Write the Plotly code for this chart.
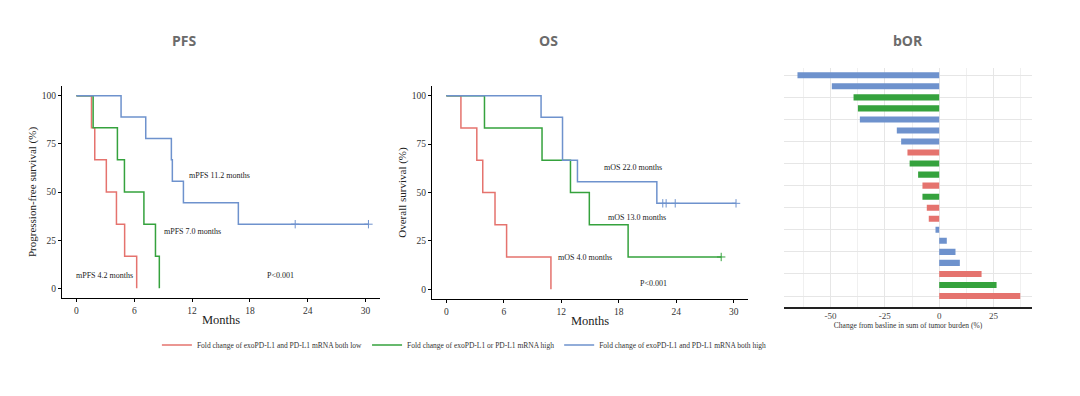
import plotly.graph_objects as go

W, H = 1080, 396

# ---------------- data ----------------
group_names = ["Fold change of exoPD-L1 and PD-L1 mRNA both low",
               "Fold change of exoPD-L1 or PD-L1 mRNA high",
               "Fold change of exoPD-L1 and PD-L1 mRNA both high"]
group_colors = ["#E5736E", "#35A23D", "#6E92CD"]

# PFS Kaplan-Meier steps (months, survival %)
pfs_low_t = [0, 1.56, 1.9, 3.1, 4.15, 5.0, 6.25]
pfs_low_s = [100, 83.3, 66.7, 50, 33.3, 16.7, 0]
pfs_one_t = [0, 1.73, 4.25, 4.98, 7.0, 8.2, 8.6]
pfs_one_s = [100, 83.3, 66.7, 50, 33.3, 16.7, 0]
pfs_both_t = [0, 4.63, 7.19, 9.85, 9.95, 11.1, 16.8, 30.3]
pfs_both_s = [100, 88.9, 77.8, 66.7, 55.6, 44.4, 33.3, 33.3]
pfs_both_cens_t = [22.7, 30.3]
pfs_both_cens_s = [33.3, 33.3]

# OS Kaplan-Meier steps
os_low_t = [0, 1.52, 3.18, 3.8, 5.08, 6.29, 10.92]
os_low_s = [100, 83.3, 66.7, 50, 33.3, 16.7, 0]
os_one_t = [0, 3.98, 9.99, 12.96, 14.93, 18.98, 28.7]
os_one_s = [100, 83.3, 66.7, 50, 33.3, 16.7, 16.7]
os_one_cens_t = [28.7]
os_one_cens_s = [16.7]
os_both_t = [0, 9.89, 12.13, 13.69, 21.98, 30.25]
os_both_s = [100, 88.9, 66.7, 55.6, 44.4, 44.4]
os_both_cens_t = [22.6, 22.95, 23.9, 30.25]
os_both_cens_s = [44.4, 44.4, 44.4, 44.4]

month_ticks = [0, 6, 12, 18, 24, 30]
surv_ticks = [0, 25, 50, 75, 100]

pfs_labels = ["mPFS 11.2 months", "mPFS 7.0 months", "mPFS 4.2 months", "P<0.001"]
pfs_label_x = [11.47, 8.88, -0.24, 19.55]
pfs_label_y = [58.8, 29.3, 6.6, 6.6]
os_labels = ["mOS 22.0 months", "mOS 13.0 months", "mOS 4.0 months", "P<0.001"]
os_label_x = [16.25, 16.66, 11.48, 19.98]
os_label_y = [62.8, 37.0, 16.2, 3.1]

# best overall response waterfall
bor_patients = ["P%d" % i for i in range(1, 22)]
bor_values = [-65.2, -49.4, -39.4, -37.4, -36.5, -19.5, -17.5, -14.6, -13.6, -9.7, -7.7,
              -7.7, -5.7, -4.8, -1.7, 3.5, 7.5, 9.5, 19.5, 26.4, 37.3]
bor_groups = [2, 2, 1, 1, 2, 2, 2, 0, 1, 1, 0, 1, 0, 0, 2, 2, 2, 2, 0, 1, 0]
bor_ticks = [-50, -25, 0, 25]
bor_tick_labels = ["-50", "-25", "0", "25"]

panel_titles = ["PFS", "OS", "bOR"]

# ---------------- figure ----------------
SERIF = "Liberation Serif"
fig = go.Figure()

def km(t, s, color, name, xa, ya, show):
    fig.add_trace(go.Scatter(x=t, y=s, mode="lines", line=dict(color=color, width=1.5, shape="hv"),
                             name=name, legendgroup=name, showlegend=show, xaxis=xa, yaxis=ya,
                             hoverinfo="skip"))

def cens(t, s, color, name, xa, ya):
    fig.add_trace(go.Scatter(x=t, y=s, mode="markers",
                             marker=dict(symbol="cross-thin-open", size=6, color=color,
                                         line=dict(color=color, width=1)),
                             name=name, legendgroup=name, showlegend=False, xaxis=xa, yaxis=ya,
                             hoverinfo="skip"))

km(pfs_low_t, pfs_low_s, group_colors[0], group_names[0], "x", "y", True)
km(pfs_one_t, pfs_one_s, group_colors[1], group_names[1], "x", "y", True)
km(pfs_both_t, pfs_both_s, group_colors[2], group_names[2], "x", "y", True)
cens(pfs_both_cens_t, pfs_both_cens_s, group_colors[2], group_names[2], "x", "y")

km(os_low_t, os_low_s, group_colors[0], group_names[0], "x2", "y2", False)
km(os_one_t, os_one_s, group_colors[1], group_names[1], "x2", "y2", False)
km(os_both_t, os_both_s, group_colors[2], group_names[2], "x2", "y2", False)
cens(os_one_cens_t, os_one_cens_s, group_colors[1], group_names[1], "x2", "y2")
cens(os_both_cens_t, os_both_cens_s, group_colors[2], group_names[2], "x2", "y2")

fig.add_trace(go.Bar(x=bor_values, y=bor_patients, orientation="h", width=0.55,
                     marker=dict(color=[group_colors[g] for g in bor_groups], line=dict(width=0)),
                     showlegend=False, xaxis="x3", yaxis="y3", hoverinfo="skip"))

def py(p):  # pixel from top -> paper
    return (H - p) / H

def px(p):
    return p / W

tickfont = dict(family=SERIF, size=9.5, color="#333333")
km_x = dict(range=[-1.5, 31.5], tickvals=month_ticks, ticks="outside", ticklen=3, tickwidth=1.2,
            tickcolor="black", showline=True, linecolor="black", linewidth=1.4, showgrid=False,
            zeroline=False, tickfont=tickfont,
            title=dict(text="Months", font=dict(family=SERIF, size=12.5, color="#222222"), standoff=0))
km_y = dict(range=[-5, 105], tickvals=surv_ticks, ticks="outside", ticklen=3, tickwidth=1.2,
            tickcolor="black", showline=True, linecolor="black", linewidth=1.4, showgrid=False,
            zeroline=False, tickfont=tickfont)

fig.update_layout(
    width=W, height=H, margin=dict(l=0, r=0, t=0, b=0),
    paper_bgcolor="white", plot_bgcolor="white",
    xaxis=dict(domain=[px(62), px(380)], anchor="y", **km_x),
    yaxis=dict(domain=[py(298), py(86)], anchor="x",
               title=dict(text="Progression-free survival (%)",
                          font=dict(family=SERIF, size=11, color="#222222"), standoff=2), **km_y),
    xaxis2=dict(domain=[px(432), px(748)], anchor="y2", **km_x),
    yaxis2=dict(domain=[py(299), py(86)], anchor="x2",
                title=dict(text="Overall survival (%)",
                           font=dict(family=SERIF, size=11, color="#222222"), standoff=2), **km_y),
    xaxis3=dict(domain=[px(784), px(1032)], anchor="y3", range=[-71.4, 42.7],
                tickvals=bor_ticks, ticktext=bor_tick_labels,
                showline=True, linecolor="#222222", linewidth=1.6, ticks="", zeroline=False,
                showgrid=True, gridcolor="#E6E6E6", gridwidth=1,
                minor=dict(dtick=12.5, tick0=0, showgrid=True, gridcolor="#F0F0F0", gridwidth=1),
                tickfont=dict(family=SERIF, size=9, color="#444444"),
                title=dict(text="Change from basline in sum of tumor burden (%)",
                           font=dict(family=SERIF, size=7.5, color="#333333"), standoff=2)),
    yaxis3=dict(domain=[py(306.7), py(68)], anchor="x3", type="category",
                categoryorder="array", categoryarray=bor_patients,
                range=[20.97, -0.66], showticklabels=False, ticks="", showline=False,
                showgrid=True, gridcolor="#E6E6E6", gridwidth=1, zeroline=False),
    legend=dict(orientation="h", x=0.43, xanchor="center", y=py(345), yanchor="middle",
                font=dict(family=SERIF, size=7.5, color="#333333"), itemwidth=30,
                bgcolor="rgba(0,0,0,0)"),
    showlegend=True,
)

annos = []
for t, cx in zip(panel_titles, [184, 548, 908]):
    annos.append(dict(text="<b>%s</b>" % t, x=px(cx), y=py(41), xref="paper", yref="paper",
                      showarrow=False, xanchor="center", yanchor="middle",
                      font=dict(family="Open Sans", size=14, color="#6B6B6B")))
for t, x, y in zip(pfs_labels, pfs_label_x, pfs_label_y):
    annos.append(dict(text=t, x=x, y=y, xref="x", yref="y", showarrow=False, xanchor="left",
                      yanchor="middle", font=dict(family=SERIF, size=8, color="#222222")))
for t, x, y in zip(os_labels, os_label_x, os_label_y):
    annos.append(dict(text=t, x=x, y=y, xref="x2", yref="y2", showarrow=False, xanchor="left",
                      yanchor="middle", font=dict(family=SERIF, size=8, color="#222222")))
fig.update_layout(annotations=annos)

fig.write_html("out.html", config={"displayModeBar": False},
               post_script="document.body.style.margin='0px';document.body.style.overflow='hidden';")
